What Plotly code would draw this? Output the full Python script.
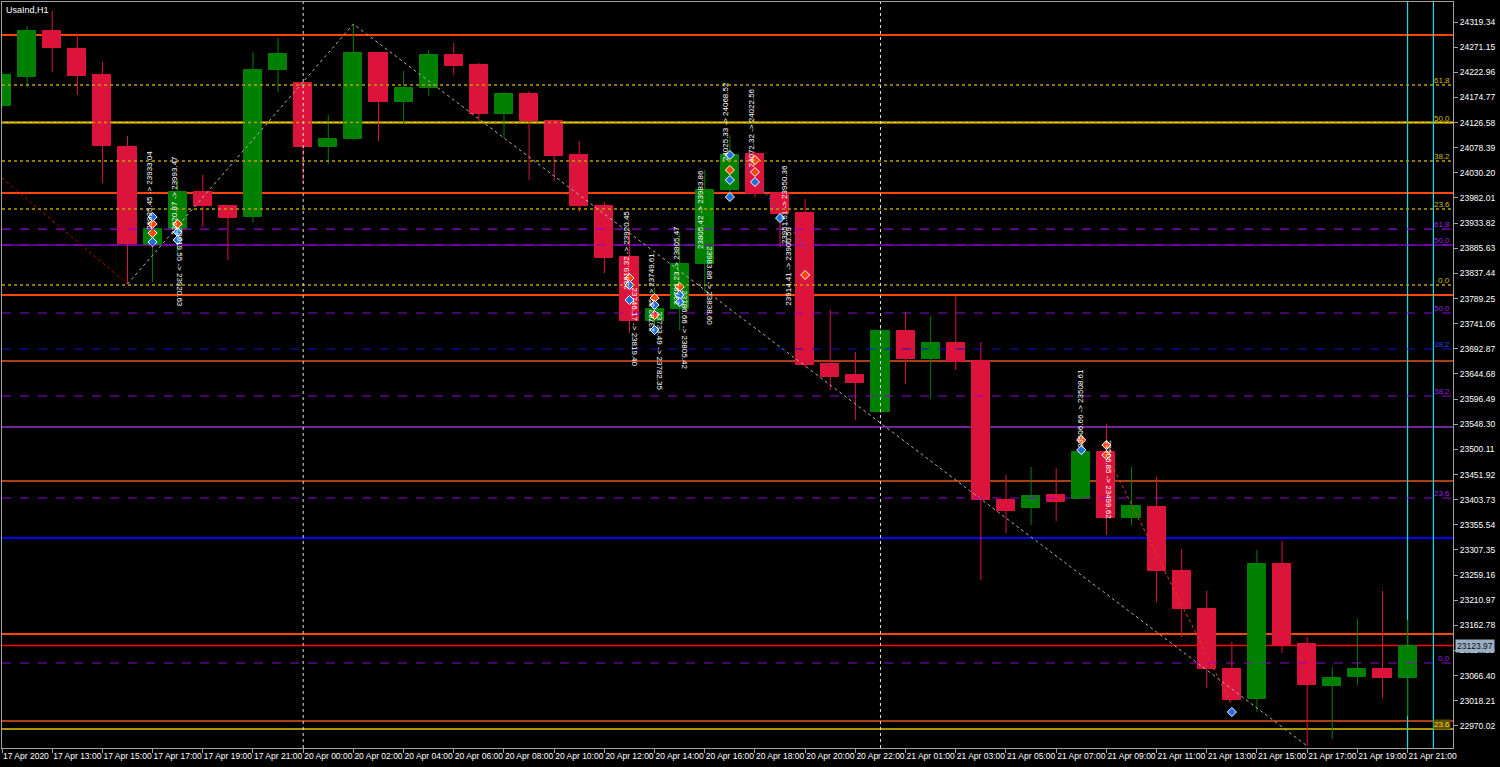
import plotly.graph_objects as go

# ---------------- data ----------------
bar_index = list(range(57))
opens = [24158.3, 24213.9, 24302.1, 24267.6, 24217.7, 24079.7, 23891.9, 23922.5, 23993.5, 23966.6,
         23945.5, 24227.3, 24202.4, 24079.7, 24095.1, 24259.9, 24166.0, 24192.8, 24256.1, 24236.9,
         24143.0, 24181.3, 24129.6, 24064.4, 23966.6, 23868.9, 23746.2, 23769.2, 23855.5, 23997.3,
         24066.3, 23991.6, 23953.2, 23663.8, 23642.7, 23571.8, 23727.0, 23673.3, 23704.0, 23669.5,
         23403.1, 23387.7, 23412.6, 23405.0, 23495.1, 23368.6, 23389.6, 23267.0, 23194.1, 23079.1,
         23021.6, 23280.4, 23127.0, 23046.5, 23063.8, 23079.1, 23061.9]
highs = [24223.5, 24311.7, 24340.4, 24296.3, 24242.7, 24100.8, 23953.2, 24016.5, 24026.1, 23966.6,
         24261.8, 24288.7, 24202.4, 24141.1, 24315.5, 24259.9, 24225.4, 24265.7, 24279.1, 24240.7,
         24185.2, 24187.1, 24129.6, 24091.2, 23974.3, 23920.6, 23811.4, 23914.9, 24035.6, 24102.7,
         24070.1, 23991.6, 23980.1, 23767.3, 23686.8, 23732.8, 23763.4, 23755.8, 23794.1, 23705.9,
         23451.0, 23466.3, 23464.4, 23533.4, 23548.7, 23466.3, 23447.2, 23309.1, 23228.6, 23130.9,
         23307.2, 23324.5, 23140.4, 23082.9, 23175.0, 23228.6, 23173.0]
lows = [24154.5, 24194.7, 24223.5, 24179.4, 24010.7, 23817.1, 23820.9, 23882.3, 23926.4, 23863.1,
        23934.0, 24185.2, 24010.7, 24047.1, 24093.1, 24091.2, 24123.8, 24177.5, 24217.7, 24129.6,
        24097.0, 24016.5, 24016.5, 23955.1, 23838.2, 23723.2, 23723.2, 23728.9, 23799.9, 23987.7,
        23983.9, 23888.0, 23658.0, 23613.9, 23556.4, 23569.8, 23625.4, 23596.7, 23652.3, 23249.7,
        23339.8, 23355.1, 23362.8, 23405.0, 23336.0, 23355.1, 23207.5, 23140.4, 23042.7, 23017.8,
        22996.7, 23109.8, 22931.5, 22944.9, 23048.4, 23023.5, 22989.0]
closes = [24217.7, 24302.1, 24269.5, 24215.8, 24081.6, 23893.8, 23922.5, 23993.5, 23966.6, 23943.6,
          24227.3, 24258.0, 24079.7, 24095.1, 24259.9, 24166.0, 24192.8, 24256.1, 24235.0, 24143.0,
          24181.3, 24129.6, 24062.5, 23966.6, 23867.0, 23746.2, 23769.2, 23855.5, 23997.3, 24064.4,
          23989.6, 23951.3, 23661.8, 23638.8, 23627.3, 23727.0, 23673.3, 23704.0, 23667.6, 23403.1,
          23382.0, 23410.7, 23399.2, 23495.1, 23368.6, 23391.6, 23267.0, 23194.1, 23079.1, 23019.7,
          23280.4, 23125.1, 23048.4, 23061.9, 23079.1, 23061.9, 23123.97]

time_tick_index = [0, 2, 4, 6, 8, 10, 12, 14, 16, 18, 20, 22, 24, 26, 28, 30, 32, 34,
                   36, 38, 40, 42, 44, 46, 48, 50, 52, 54, 56]
time_tick_text = ["17 Apr 2020", "17 Apr 13:00", "17 Apr 15:00", "17 Apr 17:00", "17 Apr 19:00",
                  "17 Apr 21:00", "20 Apr 00:00", "20 Apr 02:00", "20 Apr 04:00", "20 Apr 06:00",
                  "20 Apr 08:00", "20 Apr 10:00", "20 Apr 12:00", "20 Apr 14:00", "20 Apr 16:00",
                  "20 Apr 18:00", "20 Apr 20:00", "20 Apr 22:00", "21 Apr 01:00", "21 Apr 03:00",
                  "21 Apr 05:00", "21 Apr 07:00", "21 Apr 09:00", "21 Apr 11:00", "21 Apr 13:00",
                  "21 Apr 15:00", "21 Apr 17:00", "21 Apr 19:00", "21 Apr 21:00"]

price_ticks = [24319.34, 24271.15, 24222.96, 24174.77, 24126.58, 24078.39, 24030.20, 23982.01,
               23933.82, 23885.63, 23837.44, 23789.25, 23741.06, 23692.87, 23644.68, 23596.49,
               23548.30, 23500.11, 23451.92, 23403.73, 23355.54, 23307.35, 23259.16, 23210.97,
               23162.78, 23114.59, 23066.40, 23018.21, 22970.02]

bid_price = 23123.97

# horizontal levels
orange_levels_thick = [24294.4, 23991.5, 23796.0, 23146.2]
orange_levels_thin = [23669.5, 23439.5, 22979.4]
yellow_solid_levels = [24126.58]
olive_solid_levels = [22964.2]
purple_dark_levels = [23891.9]
purple_solid_levels = [23543.0]
blue_solid_levels = [23330.2]
yellow_fib_levels = [24198.6, 24126.58, 24052.9, 23960.9, 23815.2]
yellow_fib_labels = ["61.8", "50.0", "38.2", "23.6", "0.0"]
purple_fib_levels = [23922.5, 23891.9, 23761.5, 23602.4, 23406.9, 23090.6]
purple_fib_labels = ["61.8", "50.0", "50.0", "38.2", "23.6", "0.0"]
blue_fib_levels = [23692.5]
blue_fib_labels = ["38.2"]
olive_fib_levels = [22964.2]
olive_fib_labels = ["23.6"]

# vertical lines (bar index)
day_separators = [12, 35]
cyan_lines = [56, 57.03]

# zigzag
zigzag_x = [5, 14, 52]
zigzag_y = [23817.1, 24315.5, 22931.5]
red_zig_x = [0, 5]
red_zig_y = [24020.3, 23817.1]
red_zig2_x = [44.3, 49]
red_zig2_y = [23462.0, 23010.0]
blue_zig_x = [29.3, 31.1, 32.1]
blue_zig_y = [24066.0, 23945.0, 23880.0]

# markers
red_mark_x = [6, 6, 7, 25, 26, 26, 27, 29, 30, 30, 32, 43, 44, 44]
red_mark_y = [23932.1, 23914.9, 23932.1, 23828.6, 23790.3, 23757.7, 23811.4, 24035.6, 24054.8,
              24031.8, 23834.4, 23518.1, 23508.5, 23489.3]
blue_mark_x = [6, 6, 7, 7, 25, 25, 26, 26, 27, 27, 29, 29, 29, 30, 31, 43, 49]
blue_mark_y = [23945.5, 23897.6, 23916.8, 23901.5, 23815.2, 23786.4, 23776.9, 23728.9, 23796.0,
               23782.6, 24064.4, 24016.5, 23983.9, 24012.6, 23943.6, 23498.9, 22996.7]

# text labels on chart
note_x = [5.85, 6.85, 7.1, 24.85, 25.2, 25.85, 26.2, 27.2, 26.85, 27.85, 28.2, 28.85, 29.9,
          31.2, 31.3, 42.95, 44.1]
note_y = [23997.3, 23987.7, 23849.7, 23882.3, 23734.7, 23801.8, 23688.7, 23728.9, 23853.5,
          23959.0, 23813.3, 24127.7, 24116.2, 23968.6, 23851.6, 23577.5, 23441.4]
note_text = ["23935.45 -> 23933.04", "23920.87 -> 23993.47", "23919.55 -> 23920.63",
             "23819.32 -> 23920.45", "23746.17 -> 23819.40", "23782.35 -> 23749.61",
             "23733.49 -> 23782.35", "23786.66 -> 23805.42", "23781.23 -> 23805.47",
             "23805.42 -> 23983.86", "23983.86 -> 23838.60", "24025.33 -> 24068.52",
             "24072.32 -> 24022.56", "23951.51 -> 23950.36", "23914.41 -> 23900.59",
             "23506.66 -> 23508.61", "23506.85 -> 23499.62"]
note_angle = [-90, -90, 90, -90, 90, -90, 90, 90, -90, -90, 90, -90, -90, -90, -90, -90, 90]

# ---------------- figure ----------------
FONT = "Liberation Sans, Arial, sans-serif"
BULL = "#008000"
BEAR = "#DC143C"
fig = go.Figure()

# candle bodies as bars, wicks as lines (all on the library's scales)
for is_bull, color in ((True, BULL), (False, BEAR)):
    idx = [i for i in bar_index if (closes[i] >= opens[i]) == is_bull]
    wx, wy = [], []
    for i in idx:
        wx += [i, i, None]
        wy += [lows[i], highs[i], None]
    fig.add_trace(go.Scatter(x=wx, y=wy, mode="lines", line=dict(color=color, width=1),
                             hoverinfo="skip", showlegend=False))
    fig.add_trace(go.Bar(x=idx, base=[min(opens[i], closes[i]) for i in idx],
                         y=[max(abs(closes[i] - opens[i]), 0.5) for i in idx],
                         width=0.72, marker=dict(color=color, line=dict(color=color, width=1)),
                         hoverinfo="skip", showlegend=False))

fig.add_trace(go.Scatter(x=zigzag_x, y=zigzag_y, mode="lines",
                         line=dict(color="#B0B0B0", width=1, dash="dot"),
                         hoverinfo="skip", showlegend=False))
fig.add_trace(go.Scatter(x=red_zig_x, y=red_zig_y, mode="lines",
                         line=dict(color="#B00000", width=1, dash="dot"),
                         hoverinfo="skip", showlegend=False))
fig.add_trace(go.Scatter(x=red_zig2_x, y=red_zig2_y, mode="lines",
                         line=dict(color="#E04010", width=1, dash="dot"),
                         hoverinfo="skip", showlegend=False))
fig.add_trace(go.Scatter(x=blue_zig_x, y=blue_zig_y, mode="lines",
                         line=dict(color="#1E60D0", width=1, dash="dot"),
                         hoverinfo="skip", showlegend=False))
fig.add_trace(go.Scatter(x=red_mark_x, y=red_mark_y, mode="markers",
                         marker=dict(symbol="diamond", size=7, color="#FF4500",
                                     line=dict(color="white", width=1)),
                         hoverinfo="skip", showlegend=False))
fig.add_trace(go.Scatter(x=blue_mark_x, y=blue_mark_y, mode="markers",
                         marker=dict(symbol="diamond", size=7, color="#1E70E0",
                                     line=dict(color="white", width=1)),
                         hoverinfo="skip", showlegend=False))

shapes = []


def hline(level, color, width, dash="solid", layer="below"):
    shapes.append(dict(type="line", xref="paper", x0=0, x1=1, yref="y", y0=level, y1=level,
                       line=dict(color=color, width=width, dash=dash), layer=layer))


for v in orange_levels_thick:
    hline(v, "#FF4500", 2)
for v in orange_levels_thin:
    hline(v, "#E8501C", 1.5)
for v in yellow_solid_levels:
    hline(v, "#FFD700", 2)
for v in olive_solid_levels:
    hline(v, "#A89400", 2)
for v in purple_dark_levels:
    hline(v, "#6A0DAD", 1.5)
for v in purple_solid_levels:
    hline(v, "#9932CC", 1.5)
for v in blue_solid_levels:
    hline(v, "#0000FF", 2)
hline(bid_price, "#FF0000", 1.5)
for v in yellow_fib_levels:
    hline(v, "#B8A000", 1.5, "dot", "above")
for v in purple_fib_levels:
    hline(v, "#9400D3", 1.2, "dash", "above")
for v in blue_fib_levels:
    hline(v, "#1010D0", 1.2, "dash", "above")

for v in day_separators:
    shapes.append(dict(type="line", xref="x", x0=v, x1=v, yref="paper", y0=0, y1=1,
                       line=dict(color="#E0E0E0", width=1, dash="dot"), layer="above"))
for v in cyan_lines:
    shapes.append(dict(type="line", xref="x", x0=v, x1=v, yref="paper", y0=0, y1=1,
                       line=dict(color="#00E0EE", width=1.2), layer="below"))

annotations = []


def fib_label(level, text, color, bg=None):
    annotations.append(dict(xref="paper", x=1, yref="y", y=level, text=text, showarrow=False,
                            xanchor="right", yanchor="bottom", xshift=-2, yshift=-1,
                            bgcolor=bg, borderpad=0,
                            font=dict(family=FONT, size=8, color=color)))


for v, t in zip(yellow_fib_levels, yellow_fib_labels):
    fib_label(v, t, "#D4B800")
for v, t in zip(purple_fib_levels, purple_fib_labels):
    fib_label(v, t, "#9A20E0")
for v, t in zip(blue_fib_levels, blue_fib_labels):
    fib_label(v, t, "#2040F0")
for v, t in zip(olive_fib_levels, olive_fib_labels):
    fib_label(v, t, "#FFD700", "#5C4E00")

for x, y, t, a in zip(note_x, note_y, note_text, note_angle):
    annotations.append(dict(x=x, y=y, xref="x", yref="y", text=t, showarrow=False,
                            textangle=a, font=dict(family=FONT, size=8, color="white")))

annotations.append(dict(xref="paper", yref="paper", x=0, y=1, xanchor="left", yanchor="top",
                        xshift=2, yshift=-1, text="UsaInd,H1", showarrow=False,
                        font=dict(family=FONT, size=9, color="white")))
annotations.append(dict(xref="paper", x=1, yref="y", y=bid_price, xanchor="left",
                        text="23123.97", showarrow=False, xshift=2, bgcolor="#9AAFC6",
                        borderpad=1, font=dict(family=FONT, size=8.5, color="#101010")))

fig.update_layout(
    width=1500, height=767,
    margin=dict(l=2, r=47, t=2, b=19, autoexpand=False),
    paper_bgcolor="black", plot_bgcolor="black",
    shapes=shapes, annotations=annotations,
    font=dict(family=FONT, size=8, color="white"),
    showlegend=False, barmode="overlay", bargap=0,
    xaxis=dict(range=[0, 57.81], tickmode="array", tickvals=time_tick_index,
               ticktext=time_tick_text, ticklabelposition="outside right", tickangle=0,
               ticks="outside", ticklen=4, tickcolor="#A0A0A0", showgrid=False, automargin=False,
               zeroline=False, showline=True, linecolor="#A0A0A0", linewidth=1, mirror=True,
               tickfont=dict(family=FONT, size=8.5, color="white")),
    yaxis=dict(range=[22927.7, 24357.7], side="right", tickmode="array", tickvals=price_ticks,
               ticktext=[f"{v:.2f}" for v in price_ticks], ticks="outside", ticklen=4,
               tickcolor="#A0A0A0", showgrid=False, zeroline=False, showline=True,
               linecolor="#A0A0A0", linewidth=1, mirror=True, automargin=False,
               tickfont=dict(family=FONT, size=8.5, color="white")),
)

fig.write_html("out.html", config={"displayModeBar": False},
               post_script="document.body.style.margin='0';document.body.style.overflow='hidden';"
                           "document.body.style.background='black';")
